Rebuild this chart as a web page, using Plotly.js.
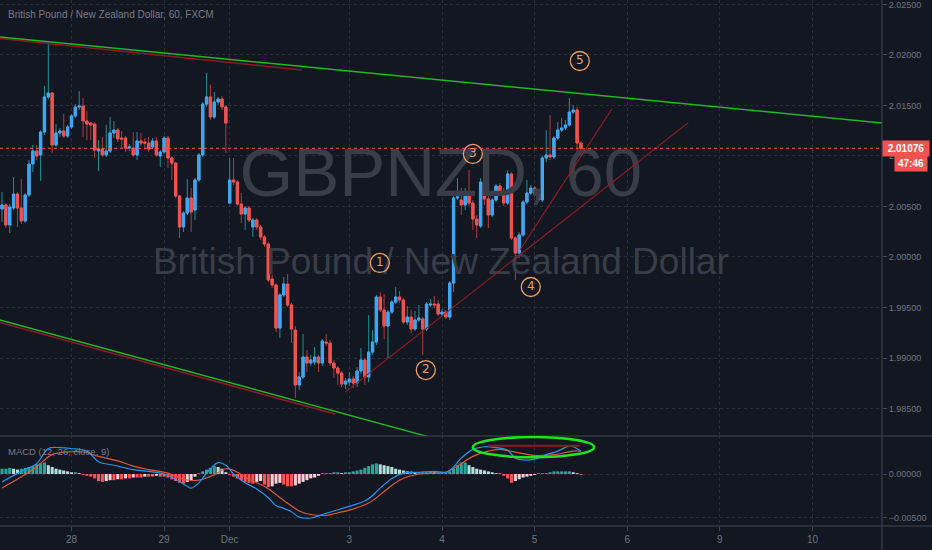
<!DOCTYPE html>
<html><head><meta charset="utf-8">
<script src="https://cdn.plot.ly/plotly-3.0.1.min.js"></script>
<style>html,body{margin:0;padding:0;background:#131722;}#chart{width:932px;height:550px;}</style>
</head><body><div id="chart"></div><script>
// ---------- DATA (GBPNZD, 60 min, FXCM) ----------
const openP = [
2.00475,2.00515,2.00317,2.00485,2.00623,2.00485,2.00356,2.00614,2.00920,2.01049,
2.01010,2.01237,2.01584,2.01623,2.01109,2.01227,2.01247,2.01198,2.01287,2.01396,
2.01485,2.01495,2.01346,2.01326,2.01316,2.01049,2.01069,2.01010,2.01049,2.01227,
2.01257,2.01178,2.01178,2.01079,2.01079,2.01010,2.01148,2.01138,2.01128,2.01089,
2.01148,2.01000,2.01039,2.01178,2.00980,2.00930,2.00604,2.00297,2.00435,2.00584,
2.00465,2.00762,2.01010,2.01514,2.01584,2.01386,2.01534,2.01564,2.01485,2.00534,
2.00762,2.00742,2.00524,2.00425,2.00485,2.00297,2.00366,2.00297,2.00198,2.00128,
1.99782,1.99723,1.99297,1.99624,1.99732,1.99525,1.99277,1.98733,1.98812,1.99010,
1.98950,1.98960,1.99010,1.98950,1.99158,1.99148,1.98950,1.98901,1.98851,1.98742,
1.98762,1.98792,1.98752,1.98871,1.98980,1.98812,1.99059,1.99158,1.99604,1.99475,
1.99317,1.99455,1.99554,1.99604,1.99574,1.99356,1.99406,1.99287,1.99376,1.99386,
1.99287,1.99525,1.99534,1.99534,1.99435,1.99455,1.99406,1.99742,2.00584,2.00564,
2.00515,2.00614,2.00534,2.00376,2.00307,2.00742,2.00574,2.00416,2.00564,2.00703,
2.00643,2.00534,2.00821,2.00188,2.00039,2.00218,2.00544,2.00633,2.00683,2.00623,
2.00564,2.00980,2.01010,2.00990,2.01178,2.01257,2.01277,2.01307,2.01435,2.01455,
2.01128];
const highP = [
2.00643,2.00534,2.00524,2.00792,2.00643,2.00772,2.00633,2.00960,2.01109,2.01109,
2.01257,2.01693,2.02118,2.01633,2.01316,2.01277,2.01415,2.01307,2.01415,2.01514,
2.01643,2.01574,2.01445,2.01336,2.01336,2.01158,2.01188,2.01307,2.01386,2.01346,
2.01277,2.01247,2.01198,2.01118,2.01237,2.01237,2.01227,2.01178,2.01188,2.01178,
2.01188,2.01059,2.01198,2.01198,2.01000,2.00940,2.00614,2.00455,2.00772,2.00683,
2.00782,2.01029,2.01534,2.01821,2.01703,2.01633,2.01584,2.01594,2.01505,2.00980,
2.00980,2.00762,2.00633,2.00505,2.00505,2.00386,2.00386,2.00317,2.00218,2.00148,
1.99822,1.99742,1.99643,1.99802,1.99831,1.99544,1.99317,1.98861,1.99237,1.99079,
1.99030,1.99109,1.99030,1.99188,1.99237,1.99178,1.98980,1.98921,1.98871,1.98802,
1.98861,1.98822,1.98911,1.99099,1.99000,1.99426,1.99277,1.99624,1.99653,1.99633,
1.99475,1.99574,1.99703,1.99663,1.99594,1.99515,1.99475,1.99465,1.99525,1.99406,
1.99554,1.99584,1.99614,1.99574,1.99485,1.99475,1.99762,2.00604,2.00782,2.00683,
2.00683,2.00861,2.00564,2.00416,2.00782,2.00841,2.00604,2.00584,2.00722,2.00732,
2.00683,2.00861,2.00841,2.00208,2.00247,2.00564,2.00762,2.00713,2.00703,2.00653,
2.01000,2.01257,2.01406,2.01198,2.01336,2.01376,2.01356,2.01574,2.01505,2.01485,
2.01148];
const lowP = [
2.00346,2.00287,2.00237,2.00465,2.00297,2.00326,2.00336,2.00594,2.00841,2.00960,
2.00752,2.01208,2.01564,2.01029,2.01089,2.01188,2.01178,2.01178,2.01267,2.01376,
2.01455,2.01188,2.01158,2.01158,2.00980,2.00851,2.00990,2.00990,2.01029,2.01178,
2.01138,2.01079,2.01039,2.01049,2.00990,2.00960,2.01099,2.01059,2.01039,2.01069,
2.00990,2.00891,2.01019,2.00881,2.00762,2.00584,2.00188,2.00247,2.00416,2.00247,
2.00366,2.00742,2.00990,2.01485,2.01356,2.01366,2.01505,2.01455,2.01029,2.00524,
2.00713,2.00505,2.00336,2.00267,2.00346,2.00198,2.00267,2.00168,2.00099,1.99752,
1.99693,1.99257,1.99198,1.99604,1.99505,1.99148,1.98604,1.98683,1.98792,1.98861,
1.98921,1.98931,1.98861,1.98921,1.99119,1.98921,1.98802,1.98733,1.98713,1.98693,
1.98723,1.98703,1.98713,1.98841,1.98733,1.98762,1.99030,1.99129,1.99455,1.99188,
1.99000,1.99435,1.99534,1.99544,1.99336,1.99327,1.99247,1.99267,1.99356,1.99030,
1.99267,1.99505,1.99495,1.99416,1.99416,1.99386,1.99376,1.99653,2.00564,2.00416,
2.00465,2.00505,2.00267,2.00188,2.00287,2.00515,2.00287,2.00396,2.00544,2.00614,
2.00505,2.00515,2.00168,1.99772,1.99990,2.00198,2.00524,2.00614,2.00594,2.00544,
2.00544,2.00940,2.00960,2.00970,2.01158,2.01237,2.01257,2.01287,2.01415,2.00990,
2.01039];
const closeP = [
2.00515,2.00317,2.00495,2.00623,2.00485,2.00356,2.00614,2.00920,2.01049,2.01000,
2.01237,2.01584,2.01623,2.01109,2.01227,2.01247,2.01198,2.01287,2.01396,2.01485,
2.01495,2.01346,2.01316,2.01307,2.01059,2.01069,2.01010,2.01049,2.01227,2.01257,
2.01168,2.01168,2.01079,2.01089,2.01010,2.01148,2.01128,2.01128,2.01069,2.01148,
2.01010,2.01039,2.01178,2.00980,2.00930,2.00604,2.00297,2.00435,2.00584,2.00445,
2.00762,2.01010,2.01514,2.01584,2.01386,2.01534,2.01564,2.01485,2.01326,2.00762,
2.00742,2.00524,2.00425,2.00485,2.00366,2.00366,2.00297,2.00198,2.00128,1.99772,
1.99723,1.99297,1.99624,1.99732,1.99525,1.99287,1.98733,1.98812,1.99010,1.98950,
1.98980,1.99010,1.98950,1.99168,1.99148,1.98950,1.98901,1.98851,1.98742,1.98772,
1.98792,1.98752,1.98871,1.98980,1.98812,1.99059,1.99158,1.99604,1.99475,1.99317,
1.99455,1.99554,1.99604,1.99574,1.99356,1.99406,1.99287,1.99376,1.99396,1.99287,
1.99534,1.99534,1.99525,1.99435,1.99455,1.99406,1.99742,2.00584,2.00594,2.00515,
2.00614,2.00534,2.00376,2.00317,2.00742,2.00574,2.00416,2.00564,2.00703,2.00643,
2.00534,2.00821,2.00188,2.00039,2.00218,2.00544,2.00633,2.00683,2.00623,2.00564,
2.00980,2.01010,2.00990,2.01178,2.01257,2.01277,2.01307,2.01435,2.01455,2.01128,
2.01076];

// MACD (12, 26, close, 9)
const macdBar = [ 0,5,9,12,15,18,22,25,29,34,38,42,45,48,49,51,54,56,58,60,63,66,69,71,73,75,77,80,83,86,89,92,95,98,101,104,108,112,115,117,119,122,125,128,131,133,135,138,141,144,147,148,150];
const macdVal = [-0.0009,0.0003,0.0012,0.0029,0.0030,0.0029,0.0026,0.0014,0.0010,0.0005,0.0003,0.0000,-0.0006,-0.0014,-0.0016,-0.0010,0.0006,0.0013,0.0010,0.0000,-0.0010,-0.0017,-0.0027,-0.0036,-0.0039,-0.0043,-0.0049,-0.0050,-0.0046,-0.0042,-0.0038,-0.0034,-0.0028,-0.0016,-0.0005,0.0001,0.0002,0.0003,0.0002,0.0008,0.0018,0.0028,0.0031,0.0030,0.0027,0.0018,0.0016,0.0017,0.0022,0.0026,0.0032,0.0031,0.0026];
const signalBar = [0,8,13,17,21,25,30,34,38,43,47,51,55,58,61,64,68,73,77,80,84,87,90,95,99,103,108,112,115,118,122,126,129,134,138,143,148,150];
const signalVal = [-0.0016,0.0005,0.0022,0.0025,0.0025,0.0020,0.0015,0.0009,0.0005,0.0001,-0.0006,-0.0007,-0.0001,0.0006,0.0002,-0.0006,-0.0014,-0.0030,-0.0042,-0.0046,-0.0047,-0.0044,-0.0041,-0.0033,-0.0020,-0.0007,0.0000,0.0001,0.0002,0.0009,0.0020,0.0026,0.0028,0.0024,0.0021,0.0022,0.0026,0.0026];
const histVal = [
0.0006,0.0006,0.0007,0.0006,0.0005,0.0006,0.0007,0.0008,0.0009,0.0011,
0.0012,0.0013,0.0010,0.0008,0.0006,0.0005,0.0004,0.0003,0.0002,0.0002,
0.0001,-0.0001,-0.0002,-0.0003,-0.0005,-0.0008,-0.0009,-0.0008,-0.0007,-0.0007,
-0.0006,-0.0006,-0.0005,-0.0005,-0.0004,-0.0004,-0.0004,-0.0003,-0.0003,-0.0003,
-0.0002,-0.0003,-0.0003,-0.0004,-0.0006,-0.0008,-0.0010,-0.0011,-0.0009,-0.0007,
-0.0003,0.0001,0.0003,0.0005,0.0007,0.0009,0.0008,0.0006,0.0002,-0.0001,
-0.0003,-0.0005,-0.0007,-0.0009,-0.0010,-0.0011,-0.0009,-0.0008,-0.0012,-0.0015,
-0.0014,-0.0011,-0.0010,-0.0012,-0.0014,-0.0014,-0.0013,-0.0011,-0.0009,-0.0007,
-0.0005,-0.0004,-0.0002,0.0001,0.0001,0.0001,0.0002,0.0002,0.0001,0.0002,
0.0002,0.0003,0.0004,0.0005,0.0007,0.0009,0.0011,0.0012,0.0011,0.0010,
0.0009,0.0008,0.0006,0.0005,0.0004,0.0003,0.0003,0.0002,0.0002,0.0002,
0.0002,0.0003,0.0002,0.0002,0.0002,0.0002,0.0003,0.0006,0.0010,0.0013,
0.0013,0.0010,0.0008,0.0006,0.0005,0.0004,0.0003,0.0002,0.0001,0.0001,
-0.0002,-0.0005,-0.0010,-0.0008,-0.0006,-0.0004,-0.0003,-0.0002,-0.0001,0.0001,
0.0001,0.0001,0.0002,0.0003,0.0003,0.0003,0.0003,0.0003,0.0002,0.0001,
-0.0001];

// axis ticks
const dayTickBar = [18, 42, 59, 90, 114, 138, 162, 186, 210];
const dayTickText = ['28', '29', 'Dec', '3', '4', '5', '6', '9', '10'];
const priceTicks = [1.985, 1.990, 1.995, 2.000, 2.005, 2.010, 2.015, 2.020, 2.025];
const macdTicks = [0, -0.005];

// user drawings (bar index, price)
const topGreenLine = [[-0.52, 2.02178], [228.0, 2.01327]];
const topRedLine = [[-0.52, 2.02163], [77.7, 2.01851]];
const lowGreenLine = [[-0.52, 1.99376], [118.7, 1.98135]];
const lowRedLine = [[-0.52, 1.99352], [86.3, 1.98446]];
const riseLineA = [[88.9, 1.98663], [177.8, 2.01330]];
const riseLineB = [[134.2, 2.00069], [158.0, 2.01465]];
const waveBar = [97.9, 109.8, 122.0, 137.0, 149.7];
const wavePrice = [1.99941, 1.98881, 2.01020, 1.99703, 2.01940];
const waveText = ['1', '2', '3', '4', '5'];
const macdEllipse = {bar: [122.0, 153.4], val: [0.0019, 0.0042]};
const macdMark = [[125.9, 0.0032], [149.7, 0.0032]];
const countdown = '47:46';
const watermarkText = ['GBPNZD, 60', 'British Pound / New Zealand Dollar'];
const watermarkAt = {bar: [113.7, 113.7], price: [2.00772, 1.99921]};

// ---------- BUILD ----------
const FONT = 'Liberation Sans, Arial, sans-serif';
const idx = openP.map((_, i) => i);
const bodyHi = openP.map((o, i) => Math.max(o, closeP[i]));
const bodyLo = openP.map((o, i) => Math.min(o, closeP[i]));
const last = closeP[closeP.length - 1];

const histColors = histVal.map((v, i) => {
  const prev = i > 0 ? histVal[i - 1] : v;
  if (v >= 0) return v >= prev ? '#26a69a' : '#b2dfdb';
  return v > prev ? '#ffcdd2' : '#ff5252';
});

function seg(pts, color, width, yaxis) {
  return {type: 'scatter', mode: 'lines', x: pts.map(p => p[0]), y: pts.map(p => p[1]),
    line: {color: color, width: width}, hoverinfo: 'skip', showlegend: false, yaxis: yaxis || 'y'};
}

const wmColor = '#393d48';
const traces = [
  {type: 'scatter', mode: 'text', x: [watermarkAt.bar[0]], y: [watermarkAt.price[0]], text: [watermarkText[0]],
   textposition: 'middle center', textfont: {family: FONT, size: 69, color: wmColor},
   hoverinfo: 'skip', showlegend: false, cliponaxis: false},
  {type: 'scatter', mode: 'text', x: [watermarkAt.bar[1]], y: [watermarkAt.price[1]], text: [watermarkText[1]],
   textposition: 'middle center', textfont: {family: FONT, size: 37, color: wmColor},
   hoverinfo: 'skip', showlegend: false, cliponaxis: false},
  seg(lowRedLine, '#8e1a1f', 1.6), seg(lowGreenLine, '#1fb81f', 1.4),
  seg(topRedLine, '#8e1a1f', 1.6), seg(topGreenLine, '#1fb81f', 1.4),
  {type: 'candlestick', x: idx, open: openP, high: highP, low: lowP, close: closeP,
   increasing: {line: {color: '#1f8f96', width: 1}, fillcolor: '#42a5f5'},
   decreasing: {line: {color: '#b23a3c', width: 1}, fillcolor: '#ef5350'},
   whiskerwidth: 0, hoverinfo: 'skip', showlegend: false},
  {type: 'candlestick', x: idx, open: openP, high: bodyHi, low: bodyLo, close: closeP,
   increasing: {line: {color: '#42a5f5', width: 1}, fillcolor: '#42a5f5'},
   decreasing: {line: {color: '#ef5350', width: 1}, fillcolor: '#ef5350'},
   whiskerwidth: 0, hoverinfo: 'skip', showlegend: false},
  seg(riseLineA, '#9b1c22', 1.1), seg(riseLineB, '#9b1c22', 1.1),
  {type: 'scatter', mode: 'markers+text', x: waveBar, y: wavePrice, text: waveText,
   textposition: 'middle center', textfont: {family: 'DejaVu Sans, sans-serif', size: 12, color: '#e8a060'},
   marker: {symbol: 'circle-open', size: 19, color: '#e8a060', line: {width: 1.3, color: '#e8a060'}},
   hoverinfo: 'skip', showlegend: false, cliponaxis: false},
  {type: 'bar', x: idx, y: histVal, marker: {color: histColors, line: {width: 0}}, width: 0.8,
   yaxis: 'y2', hoverinfo: 'skip', showlegend: false},
  {type: 'scatter', mode: 'lines', x: signalBar, y: signalVal, yaxis: 'y2',
   line: {color: '#e0583c', width: 1.2, shape: 'spline'}, hoverinfo: 'skip', showlegend: false},
  {type: 'scatter', mode: 'lines', x: macdBar, y: macdVal, yaxis: 'y2',
   line: {color: '#2196f3', width: 1.2, shape: 'spline'}, hoverinfo: 'skip', showlegend: false},
  seg(macdMark, '#8e1a1f', 2, 'y2')
];

const splitY = 90 / 526;
const axFont = {family: FONT, size: 9, color: '#70737e'};
const layout = {
  width: 932, height: 550,
  margin: {l: 0, r: 50, t: 0, b: 24},
  paper_bgcolor: '#131722', plot_bgcolor: '#131722',
  showlegend: false, hovermode: false, dragmode: false, boxgap: 0.15,
  font: {family: FONT},
  xaxis: {range: [-0.52, 228.0], tickmode: 'array', tickvals: dayTickBar, ticktext: dayTickText,
    anchor: 'y2', showgrid: true, gridcolor: '#2a2e39', griddash: 'dot', gridwidth: 1,
    zeroline: false, showline: false, ticks: 'outside', ticklen: 4, tickcolor: '#434651',
    tickfont: {family: FONT, size: 10, color: '#70737e'}, rangeslider: {visible: false}, fixedrange: true},
  yaxis: {domain: [splitY, 1], range: [1.98228, 2.02544], side: 'right', tickmode: 'array',
    tickvals: priceTicks, tickformat: '.5f', showgrid: true, gridcolor: '#2a2e39', griddash: 'dot',
    zeroline: false, ticks: 'outside', ticklen: 4, tickcolor: '#434651', tickfont: axFont,
    ticklabeloverflow: 'allow', fixedrange: true},
  yaxis2: {domain: [0, splitY], range: [-0.00591, 0.00432], side: 'right', tickmode: 'array',
    tickvals: macdTicks, tickformat: '.5f', showgrid: true, gridcolor: '#2a2e39', griddash: 'dot',
    zeroline: false, ticks: 'outside', ticklen: 4, tickcolor: '#434651', tickfont: axFont,
    ticklabeloverflow: 'allow', fixedrange: true},
  shapes: [
    {type: 'line', xref: 'paper', x0: 0, x1: 1, yref: 'y', y0: last, y1: last,
     line: {color: '#ef5350', width: 1, dash: 'dot'}},
    {type: 'line', xref: 'paper', x0: 0, x1: 1.06, yref: 'paper', y0: splitY, y1: splitY,
     line: {color: '#434651', width: 1}},
    {type: 'line', xref: 'paper', x0: 0, x1: 1.06, yref: 'paper', y0: 0, y1: 0,
     line: {color: '#434651', width: 1}},
    {type: 'line', xref: 'paper', x0: 1, x1: 1, yref: 'paper', y0: -0.05, y1: 1,
     line: {color: '#434651', width: 1}},
    {type: 'circle', xref: 'x', yref: 'y2', x0: macdEllipse.bar[0], x1: macdEllipse.bar[1],
     y0: macdEllipse.val[0], y1: macdEllipse.val[1], line: {color: '#1ee61e', width: 2.5}}
  ],
  annotations: [
    {text: 'British Pound / New Zealand Dollar, 60, FXCM', xref: 'paper', yref: 'paper',
     x: 6 / 882, y: (526 - 14) / 526, xanchor: 'left', yanchor: 'middle', showarrow: false,
     font: {family: FONT, size: 10, color: '#787b86'}},
    {text: 'MACD (12, 26, close, 9)', xref: 'paper', yref: 'paper',
     x: 6 / 882, y: (526 - 451) / 526, xanchor: 'left', yanchor: 'middle', showarrow: false,
     font: {family: FONT, size: 9.5, color: '#787b86'}},
    {text: last.toFixed(5), xref: 'paper', yref: 'y', x: 1, y: last, xanchor: 'left', yanchor: 'middle',
     showarrow: false, bgcolor: '#ef5350', borderpad: 2, width: 42,
     font: {family: FONT, size: 10, color: '#ffffff', weight: 'bold'}},
    {text: countdown, xref: 'paper', yref: 'y', x: 928 / 882, y: last, yshift: -15, xanchor: 'right', yanchor: 'middle',
     showarrow: false, bgcolor: '#ef5350', borderpad: 2, width: 28,
     font: {family: FONT, size: 10, color: '#ffffff', weight: 'bold'}}
  ]
};

Plotly.newPlot('chart', traces, layout, {staticPlot: true, displayModeBar: false});
</script></body></html>
